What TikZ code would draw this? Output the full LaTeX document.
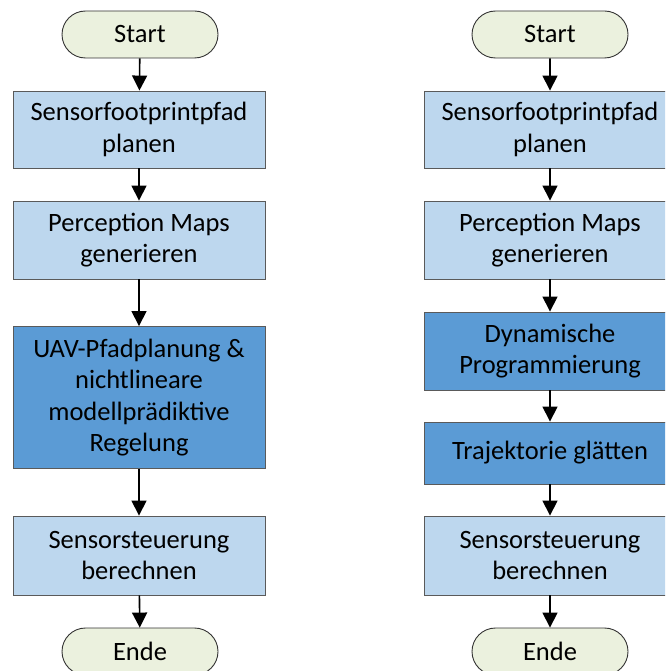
\documentclass[tikz,border=0pt]{standalone}
\usepackage{fontspec}
\setmainfont{Carlito}
\usetikzlibrary{arrows.meta,shapes.misc}
\definecolor{termfill}{HTML}{EBF1DE}
\definecolor{lightstep}{HTML}{BDD7EE}
\definecolor{darkstep}{HTML}{5B9BD5}
\definecolor{boxline}{HTML}{5A5A5A}
\tikzset{
  x=1pt, y=-1pt,
  every node/.style={font=\fontsize{26.5}{31.5}\selectfont, align=center, text=black, inner sep=0pt},
  terminal/.style={rounded rectangle, draw=black!80, line width=0.9pt, fill=termfill,
    minimum width=156pt, minimum height=47pt},
  lightbox/.style={rectangle, draw=boxline, line width=0.9pt, fill=lightstep,
    minimum width=252pt},
  darkbox/.style={rectangle, draw=boxline, line width=0.9pt, fill=darkstep,
    minimum width=252pt},
  flow/.style={-{Triangle[width=15pt,length=15pt]}, line width=1.6pt, black},
}
\begin{document}
\begin{tikzpicture}
\useasboundingbox (0,0) rectangle (665,671);
\clip (0,0) rectangle (665,671);
% left flow
\node[terminal] (ls) at (140,34.5) {Start};
\node[lightbox, minimum height=77pt] (l1) at (139,129.5) {Sensorfootprintpfad\\planen};
\node[lightbox, minimum height=78pt] (l2) at (139,240) {Perception Maps\\generieren};
\node[darkbox, minimum height=142pt] (l3) at (139,397.5) {UAV-Pfadplanung \&\\nichtlineare\\modellprädiktive\\Regelung};
\node[lightbox, minimum height=79pt] (l4) at (139,555.5) {Sensorsteuerung\\berechnen};
\node[terminal] (le) at (140,651.5) {Ende};
\draw[flow] (ls) -- (l1);
\draw[flow] (l1) -- (l2);
\draw[flow] (l2) -- (l3);
\draw[flow] (l3) -- (l4);
\draw[flow] (l4) -- (le);
% right flow
\node[terminal] (rs) at (550,34.5) {Start};
\node[lightbox, minimum height=77pt] (r1) at (550,129.5) {Sensorfootprintpfad\\planen};
\node[lightbox, minimum height=78pt] (r2) at (550,240) {Perception Maps\\generieren};
\node[darkbox, minimum height=78pt] (r3) at (550,351) {Dynamische\\Programmierung};
\node[darkbox, minimum height=62pt] (r4) at (550,453) {Trajektorie glätten};
\node[lightbox, minimum height=79pt] (r5) at (550,555.5) {Sensorsteuerung\\berechnen};
\node[terminal] (re) at (550,651.5) {Ende};
\draw[flow] (rs) -- (r1);
\draw[flow] (r1) -- (r2);
\draw[flow] (r2) -- (r3);
\draw[flow] (r3) -- (r4);
\draw[flow] (r4) -- (r5);
\draw[flow] (r5) -- (re);
\end{tikzpicture}
\end{document}
